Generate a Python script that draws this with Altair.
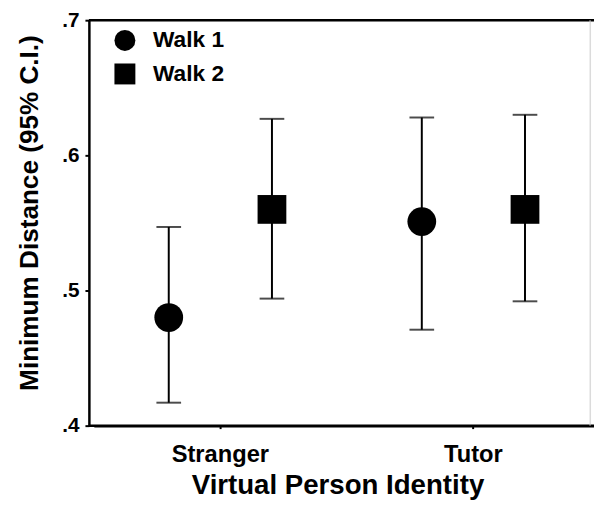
import altair as alt
import pandas as pd

identity = ["Stranger", "Stranger", "Tutor", "Tutor"]
walk = ["Walk 1", "Walk 2", "Walk 1", "Walk 2"]
mean = [0.480, 0.560, 0.551, 0.560]
lower = [0.417, 0.494, 0.471, 0.492]
upper = [0.547, 0.627, 0.628, 0.630]

df = pd.DataFrame({"identity": identity, "walk": walk, "mean": mean,
                   "lower": lower, "upper": upper})

W, H = 508, 411
FONT = "Liberation Sans"

x = alt.X("identity:N", title="Virtual Person Identity",
          scale=alt.Scale(paddingInner=0, paddingOuter=0, range=[5, 518]),
          axis=alt.Axis(labelAngle=0, labelFontSize=24, labelFont=FONT,
                        labelFontWeight="bold", labelPadding=14, tickSize=3,
                        tickWidth=2, tickColor="black", domainColor="black",
                        domainWidth=2.5, titleFontSize=28, titleFont=FONT,
                        titleFontWeight="bold", titleY=69, titleX=252,
                        titleBaseline="alphabetic", labelColor="black",
                        titleColor="black"))
xo = alt.XOffset("walk:N", scale=alt.Scale(paddingInner=0, paddingOuter=0.226))
yscale = alt.Scale(domain=[0.4, 0.7], nice=False, zero=False)

base = alt.Chart(df)

rules = base.mark_rule(color="black", strokeWidth=2).encode(
    x=x, xOffset=xo,
    y=alt.Y("lower:Q", scale=yscale,
            title="Minimum Distance (95% C.I.)",
            axis=alt.Axis(values=[0.4, 0.5, 0.6, 0.7], grid=False,
                          labelExpr="replace(format(datum.value, '.1f'), '0.', '.')",
                          labelFontSize=21, labelFont=FONT, labelFontWeight="bold",
                          labelColor="black", labelPadding=6, tickSize=4,
                          tickWidth=2, tickColor="black", domainColor="black",
                          domainWidth=2.5, titleFontSize=26.5, titleFont=FONT,
                          titleFontWeight="bold", titleColor="black",
                          titleX=-52, titleY=195, titleAngle=-90,
                          titleAlign="center", titleBaseline="alphabetic")),
    y2="upper:Q",
)

caps_lo = base.mark_tick(color="black", size=25, thickness=2, orient="horizontal").encode(
    x=x, xOffset=xo, y=alt.Y("lower:Q", scale=yscale))
caps_hi = base.mark_tick(color="black", size=25, thickness=2, orient="horizontal").encode(
    x=x, xOffset=xo, y=alt.Y("upper:Q", scale=yscale))

points = base.mark_point(filled=True, opacity=1, color="black", size=850).encode(
    x=x, xOffset=xo,
    y=alt.Y("mean:Q", scale=yscale),
    shape=alt.Shape("walk:N",
                    scale=alt.Scale(domain=["Walk 1", "Walk 2"], range=["circle", "square"]),
                    legend=alt.Legend(title=None, orient="none", legendX=25, legendY=9,
                                      symbolSize=450, symbolFillColor="black",
                                      symbolStrokeWidth=0, labelFontSize=23,
                                      labelFont=FONT, labelFontWeight="bold",
                                      labelColor="black", labelOffset=17,
                                      rowPadding=10)),
)

top_line = alt.Chart(pd.DataFrame({"v": [0]})).mark_rule(color="black", strokeWidth=2.5).encode(
    x=alt.value(0), x2=alt.value(W + 4), y=alt.value(0))
bottom_line = alt.Chart(pd.DataFrame({"v": [0]})).mark_rule(color="black", strokeWidth=2.5).encode(
    x=alt.value(0), x2=alt.value(W + 4), y=alt.value(H))
right_line = alt.Chart(pd.DataFrame({"v": [0]})).mark_rule(color="#d8d8d8", strokeWidth=1).encode(
    x=alt.value(W), y=alt.value(0), y2=alt.value(H))

chart = alt.layer(rules, caps_lo, caps_hi, points, top_line, bottom_line, right_line).properties(
    width=W, height=H,
    autosize=alt.AutoSizeParams(type="none"),
    padding={"left": 82, "top": 9, "right": 4, "bottom": 72},
).configure_view(stroke=None).configure(background="white")

chart.save("out.html", embed_options={"renderer": "svg", "actions": False})
